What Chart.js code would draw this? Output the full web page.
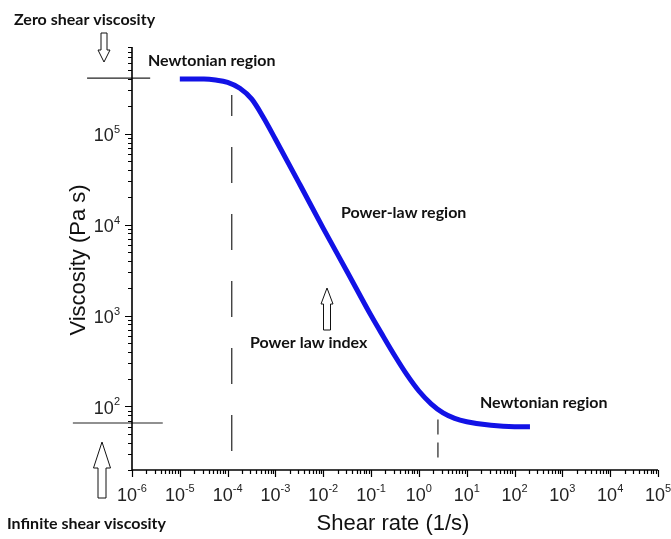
<!DOCTYPE html>
<html><head><meta charset="utf-8">
<script src="https://cdn.jsdelivr.net/npm/chart.js@4.4.0/dist/chart.umd.min.js"></script>
<style>html,body{margin:0;padding:0;background:#fff}#c{display:block}</style>
</head><body>
<canvas id="c" width="671" height="539"></canvas>
<script>
// ---- data ----
const shearRate = [1e-5, 3.2e-5, 5.6e-5, 1e-4, 1.8e-4, 3.2e-4, 5.6e-4, 1e-3, 3.2e-3, 1e-2, 3.2e-2, 0.1, 0.18, 0.32, 0.56, 1, 1.8, 3.2, 5.6, 10, 32, 100, 210];
const viscosity = [4.0e5, 4.0e5, 3.9e5, 3.67e5, 3.16e5, 2.4e5, 1.51e5, 8.7e4, 2.8e4, 9.1e3, 3.0e3, 1.0e3, 589, 355, 224, 148, 107, 85, 74, 68, 62, 60, 60];
const xTickExponents = [-6, -5, -4, -3, -2, -1, 0, 1, 2, 3, 4, 5];
const yTickExponents = [2, 3, 4, 5];
const xRange = [1e-6, 1e5];
const yRange = [20, 9e5];
// marker lines (data coordinates)
const onsetShear = [1.22e-4, 1.22e-4];
const onsetVisc = [2.67e5, 32];
const endShear = [2.5, 2.5];
const endVisc = [72, 26];
const zeroShearX = [1.15e-7, 2.4e-6];
const zeroShearY = [4.1e5, 4.1e5];
const infShearX = [5.8e-8, 4.4e-6];
const infShearY = [65.8, 65.8];

const pts = (xs, ys) => xs.map((x, i) => ({x, y: ys[i]}));

const annotations = [
  {text: 'Zero shear viscosity', x: 14, y: 20},
  {text: 'Newtonian region', x: 148, y: 61},
  {text: 'Power-law region', x: 341, y: 213},
  {text: 'Power law index', x: 250, y: 343},
  {text: 'Newtonian region', x: 480, y: 403},
  {text: 'Infinite shear viscosity', x: 7, y: 524}
];
const arrows = [
  {cx: 104, tip: 62, tail: 33, headBase: 50, sw: 3, hw: 6},
  {cx: 102, tip: 442, tail: 498, headBase: 468, sw: 4, hw: 8.5},
  {cx: 327, tip: 288, tail: 330, headBase: 304, sw: 3.5, hw: 6}
];

const drawPlugin = {
  id: 'drawExtras',
  afterDraw(chart) {
    const {ctx, chartArea: a, scales: {x, y}} = chart;
    ctx.save();
    ctx.strokeStyle = '#000';
    ctx.fillStyle = '#000';
    // axes
    ctx.lineWidth = 1.6;
    ctx.beginPath();
    ctx.moveTo(a.left, a.top); ctx.lineTo(a.left, a.bottom); ctx.lineTo(a.right, a.bottom);
    ctx.stroke();
    // tick marks
    ctx.lineWidth = 1.2;
    ctx.beginPath();
    for (let e = -6; e <= 5; e++) {
      for (let m = 1; m <= 9; m++) {
        const v = m * Math.pow(10, e);
        if (v < xRange[0] * 0.999 || v > xRange[1] * 1.001) continue;
        const px = Math.round(x.getPixelForValue(v)) + 0.5;
        const len = m === 1 ? 7 : 4;
        ctx.moveTo(px, a.bottom); ctx.lineTo(px, a.bottom + len);
      }
    }
    for (let e = 1; e <= 5; e++) {
      for (let m = 1; m <= 9; m++) {
        const v = m * Math.pow(10, e);
        if (v < yRange[0] * 0.999 || v > yRange[1] * 1.001) continue;
        const py = Math.round(y.getPixelForValue(v)) + 0.5;
        const len = m === 1 ? 7 : 4;
        ctx.moveTo(a.left, py); ctx.lineTo(a.left - len, py);
      }
    }
    ctx.stroke();
    // tick labels
    const big = '18px "Liberation Sans", Arial, sans-serif';
    const small = '11px "Liberation Sans", Arial, sans-serif';
    ctx.fillStyle = '#222';
    ctx.textBaseline = 'alphabetic';
    xTickExponents.forEach(e => {
      const px = x.getPixelForValue(Math.pow(10, e));
      ctx.font = big; const w1 = ctx.measureText('10').width;
      ctx.font = small; const es = String(e); const w2 = ctx.measureText(es).width;
      const left = px - (w1 + w2) / 2;
      ctx.font = big; ctx.textAlign = 'left'; ctx.fillText('10', left, a.bottom + 31);
      ctx.font = small; ctx.fillText(es, left + w1, a.bottom + 22);
    });
    yTickExponents.forEach(e => {
      const py = y.getPixelForValue(Math.pow(10, e));
      ctx.font = small; const es = String(e); const w2 = ctx.measureText(es).width;
      const right = a.left - 12;
      ctx.textAlign = 'left';
      ctx.fillText(es, right - w2, py - 1);
      ctx.font = big; ctx.textAlign = 'right';
      ctx.fillText('10', right - w2, py + 7.5);
    });
    // axis titles
    ctx.fillStyle = '#111';
    ctx.font = '22px "Liberation Sans", Arial, sans-serif';
    ctx.textAlign = 'center'; ctx.textBaseline = 'middle';
    ctx.fillText('Shear rate (1/s)', 393, 524);
    ctx.save();
    ctx.translate(79, 260); ctx.rotate(-Math.PI / 2);
    ctx.fillText('Viscosity (Pa s)', 0, 0);
    ctx.restore();
    // annotations
    ctx.font = 'bold 16px Lato, "Open Sans", sans-serif';
    ctx.textAlign = 'left'; ctx.textBaseline = 'middle';
    annotations.forEach(t => ctx.fillText(t.text, t.x, t.y));
    // outline arrows
    ctx.lineWidth = 1;
    ctx.strokeStyle = '#111';
    arrows.forEach(r => {
      ctx.beginPath();
      ctx.moveTo(r.cx, r.tip);
      ctx.lineTo(r.cx + r.hw, r.headBase);
      ctx.lineTo(r.cx + r.sw, r.headBase);
      ctx.lineTo(r.cx + r.sw, r.tail);
      ctx.lineTo(r.cx - r.sw, r.tail);
      ctx.lineTo(r.cx - r.sw, r.headBase);
      ctx.lineTo(r.cx - r.hw, r.headBase);
      ctx.closePath();
      ctx.fillStyle = '#fff'; ctx.fill(); ctx.stroke();
    });
    ctx.restore();
  }
};

new Chart(document.getElementById('c'), {
  type: 'line',
  data: {
    datasets: [
      {data: pts(shearRate, viscosity), borderColor: '#1212e6', borderWidth: 5, pointRadius: 0,
       cubicInterpolationMode: 'monotone', borderCapStyle: 'butt', borderJoinStyle: 'round', fill: false},
      {data: pts(onsetShear, onsetVisc), borderColor: '#222', borderWidth: 1.2, pointRadius: 0,
       borderDash: [36, 31], borderDashOffset: 15, clip: false},
      {data: pts(endShear, endVisc), borderColor: '#222', borderWidth: 1.2, pointRadius: 0,
       borderDash: [15, 8], clip: false},
      {data: pts(zeroShearX, zeroShearY), borderColor: '#222', borderWidth: 1.2, pointRadius: 0, clip: false},
      {data: pts(infShearX, infShearY), borderColor: '#222', borderWidth: 1.2, pointRadius: 0, clip: false}
    ]
  },
  options: {
    responsive: false,
    animation: false,
    events: [],
    layout: {padding: {left: 132, top: 47, right: 13, bottom: 69}},
    plugins: {legend: {display: false}, tooltip: {enabled: false}},
    scales: {
      x: {type: 'logarithmic', min: xRange[0], max: xRange[1],
          ticks: {display: false}, grid: {display: false}, border: {display: false},
          afterFit: s => { s.height = 0; }},
      y: {type: 'logarithmic', min: yRange[0], max: yRange[1],
          ticks: {display: false}, grid: {display: false}, border: {display: false},
          afterFit: s => { s.width = 0; }}
    }
  },
  plugins: [drawPlugin]
});
</script>
</body></html>
